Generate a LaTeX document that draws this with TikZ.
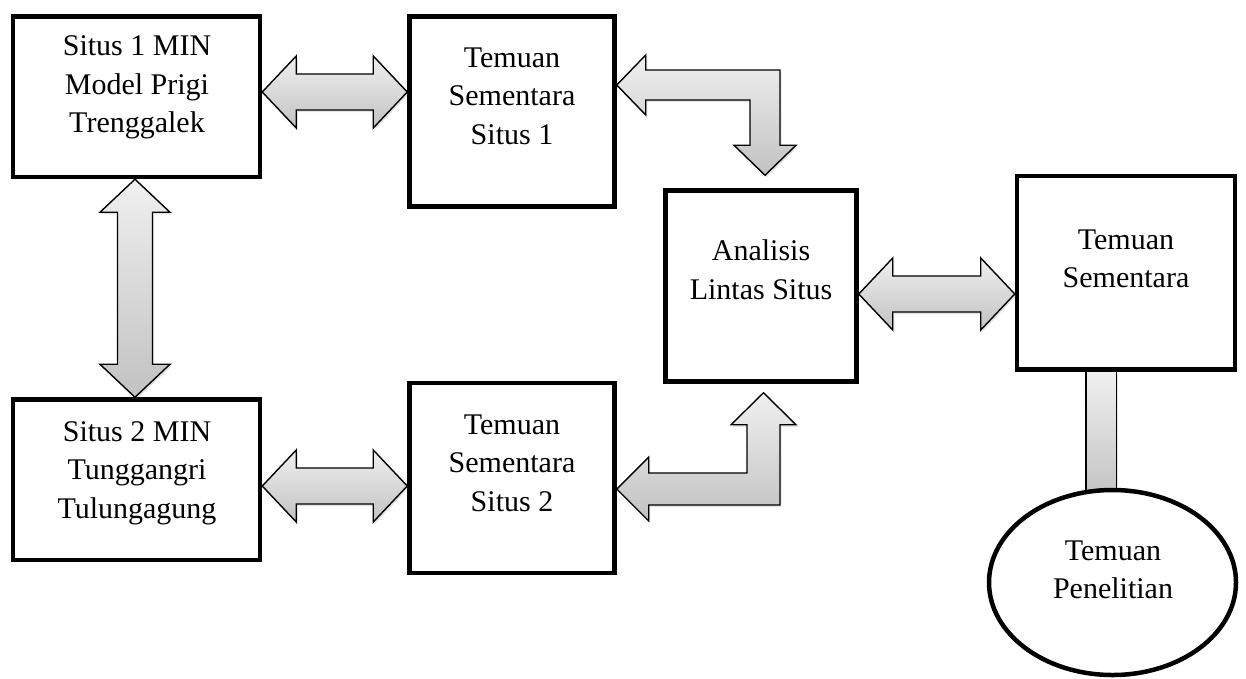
\documentclass[tikz,border=0pt]{standalone}
\usepackage{fontspec}
\setmainfont{Liberation Serif}
\usetikzlibrary{calc,shapes.geometric,shadows}
\tikzset{
  box/.style={draw, line width=4.5pt, fill=white, rectangle, inner sep=0pt},
  oval/.style={draw, line width=4.5pt, fill=white, ellipse, inner sep=0pt},
  lbl/.style={align=center, font=\fontsize{30}{38.5}\selectfont, inner sep=0pt},
  barrow/.style={draw, line width=1.4pt, line join=miter, top color=gray!12, bottom color=gray!48,
    drop shadow={shadow xshift=1.5pt, shadow yshift=-2pt, opacity=0.22}},
}
\newcommand\hdarrow[2]{%
  \path[barrow] (#1) -- ++(34,-36) -- ++(0,18) -- ($(#2)+(-34,-18)$) -- ++(0,-18) -- (#2)
    -- ++(-34,36) -- ++(0,-18) -- ($(#1)+(34,18)$) -- ++(0,18) -- cycle;}
\newcommand\vdarrow[2]{%
  \path[barrow] (#1) -- ++(35,33) -- ++(-17.5,0) -- ($(#2)+(17.5,-33)$) -- ++(17.5,0) -- (#2)
    -- ++(-35,-33) -- ++(17.5,0) -- ($(#1)+(-17.5,33)$) -- ++(-17.5,0) -- cycle;}
\begin{document}
\begin{tikzpicture}[x=1pt,y=-1pt]
\useasboundingbox (0,0) rectangle (1246,678);
% boxes
\node[box, minimum width=247pt, minimum height=160.5pt] (A) at (136.5,96.75) {};
\node[box, minimum width=205pt, minimum height=190pt] (B) at (512,111.5) {};
\node[box, minimum width=191pt, minimum height=191pt] (C) at (761,286) {};
\node[box, minimum width=247pt, minimum height=160.5pt] (D) at (136.5,479.75) {};
\node[box, minimum width=205pt, minimum height=190pt] (E) at (512,478) {};
\node[box, minimum width=218pt, minimum height=193.5pt] (F) at (1126,272.75) {};
% connector F -- G
\coordinate (fg1) at (F.south -| 1086,0);
\coordinate (fg2) at (1116.5,500);
\path[barrow] (fg1) rectangle (fg2);
\node[oval, minimum width=247pt, minimum height=185pt] (G) at (1112.5,582.5) {};
% labels
\node[lbl] (At) at (137,86.3) {\strut Situs 1 MIN\\Model Prigi\\Trenggalek\strut};
\node[lbl] (Bt) at (512,97.8) {\strut Temuan\\Sementara\\Situs 1\strut};
\node[lbl] (Ct) at (761,272.3) {\strut Analisis\\Lintas Situs\strut};
\node[lbl] (Dt) at (137,471.8) {\strut Situs 2 MIN\\Tunggangri\\Tulungagung\strut};
\node[lbl] (Et) at (512,464.8) {\strut Temuan\\Sementara\\Situs 2\strut};
\node[lbl] (Ft) at (1126,260.8) {\strut Temuan\\Sementara\strut};
\node[lbl] (Gt) at (1113,571.8) {\strut Temuan\\Penelitian\strut};
% block arrows
\hdarrow{A.east |- 0,92}{B.west |- 0,92}
\hdarrow{D.east |- 0,486}{E.west |- 0,486}
\hdarrow{C.east |- 0,294}{F.west |- 0,294}
\vdarrow{A.south -| 135,0}{D.north -| 135,0}
% bent arrow B <- -> C
\coordinate (L1) at (B.east |- 0,85);
\coordinate (D1) at ($(C.north -| 765,0)+(0,-13)$);
\path[barrow] let \p1=(L1), \p2=(D1) in
  (\p1) -- (\x1+29pt,\y1+30pt) -- (\x1+29pt,\y1+15pt) -- (\x2+15pt,\y1+15pt)
  -- (\x2+15pt,\y2+30pt) -- (\x2+31pt,\y2+30pt) -- (\p2) -- (\x2-31pt,\y2+30pt)
  -- (\x2-15pt,\y2+30pt) -- (\x2-15pt,\y1-15pt) -- (\x1+29pt,\y1-15pt)
  -- (\x1+29pt,\y1-30pt) -- cycle;
% bent arrow E <- -> C
\coordinate (L2) at (E.east |- 0,489);
\coordinate (U2) at ($(C.south -| 763.5,0)+(0,9)$);
\path[barrow] let \p1=(L2), \p2=(U2) in
  (\p1) -- (\x1+32pt,\y1+32pt) -- (\x1+32pt,\y1+16pt) -- (\x2-16.5pt,\y1+16pt)
  -- (\x2-16.5pt,\y2-32pt) -- (\x2-32.5pt,\y2-32pt) -- (\p2) -- (\x2+32.5pt,\y2-32pt)
  -- (\x2+16.5pt,\y2-32pt) -- (\x2+16.5pt,\y1-16pt) -- (\x1+32pt,\y1-16pt)
  -- (\x1+32pt,\y1-32pt) -- cycle;
\end{tikzpicture}
\end{document}
